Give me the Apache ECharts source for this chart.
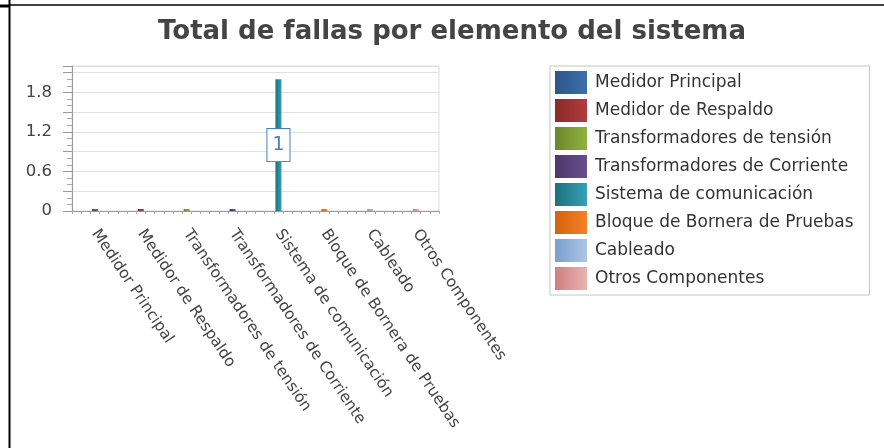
<!DOCTYPE html>
<html>
<head>
<meta charset="utf-8">
<script src="https://cdn.jsdelivr.net/npm/echarts@6/dist/echarts.min.js"></script>
<style>
  html, body { margin: 0; padding: 0; background: #fff; }
  #chart { width: 884px; height: 448px; }
</style>
</head>
<body>
<div id="chart"></div>
<script>
// categorias del eje x (y nombres de la leyenda)
var categories = [
  "Medidor Principal",
  "Medidor de Respaldo",
  "Transformadores de tensión",
  "Transformadores de Corriente",
  "Sistema de comunicación",
  "Bloque de Bornera de Pruebas",
  "Cableado",
  "Otros Componentes"
];
// altura de cada barra
var values = [0, 0, 0, 0, 2, 0, 0, 0];
// texto de la etiqueta que se ve sobre la barra
var labelTexts = ["", "", "", "", "1", "", "", ""];
// colores [oscuro, claro] de cada elemento
var colorPairs = [
  ["#2c5687", "#3d70ab"],
  ["#8a2a2a", "#b13d3d"],
  ["#6b862c", "#8fb33f"],
  ["#4b3769", "#6a4f8f"],
  ["#1d6f7e", "#34a2b6"],
  ["#d3620a", "#f4822a"],
  ["#7b9fcf", "#adc6e6"],
  ["#d07e7e", "#e9b3b3"]
];
var yTicks = [0, 0.6, 1.2, 1.8];

function grad(pair) {
  return new echarts.graphic.LinearGradient(0, 0, 1, 0, [
    { offset: 0, color: pair[0] },
    { offset: 1, color: pair[1] }
  ]);
}

var myChart = echarts.init(document.getElementById("chart"));

var series = categories.map(function (name, i) {
  var data = categories.map(function (c, j) {
    return j === i ? values[i] : "-";
  });
  return {
    name: name,
    type: "bar",
    stack: "total",
    xAxisIndex: 0,
    barWidth: 6,
    barMinHeight: 2,
    data: data,
    itemStyle: { color: grad(colorPairs[i]) },
    label: {
      show: labelTexts[i] !== "",
      position: "inside",
      formatter: function () { return labelTexts[i]; },
      color: "#4a7ebb",
      fontFamily: "DejaVu Sans",
      fontSize: 19,
      backgroundColor: "#fff",
      borderColor: "#4a7ebb",
      borderWidth: 1,
      padding: [7, 5, 6, 5]
    }
  };
});

var option = {
  animation: false,
  textStyle: { fontFamily: "DejaVu Sans" },
  title: {
    text: "Total de fallas por elemento del sistema",
    left: 447,
    textAlign: "center",
    top: 14,
    textStyle: { fontFamily: "DejaVu Sans", fontWeight: "bold", fontSize: 26, color: "#444" }
  },
  legend: {
    orient: "vertical",
    left: 550,
    top: 66,
    itemWidth: 32,
    itemHeight: 23,
    itemGap: 5,
    icon: "rect",
    padding: [5, 16, 5, 5],
    borderColor: "#c4c4c4",
    borderWidth: 1,
    textStyle: { fontFamily: "DejaVu Sans", fontSize: 17, color: "#333", padding: [0, 0, 0, 3] },
    data: categories
  },
  grid: {
    left: 72,
    right: 445,
    top: 66,
    bottom: 237,
    show: true,
    borderColor: "#dcdcdc",
    borderWidth: 1
  },
  xAxis: [
    {
      type: "category",
      data: categories,
      axisLine: { lineStyle: { color: "#999" } },
      axisTick: { alignWithLabel: true, length: 7, lineStyle: { color: "#999" } },
      axisLabel: {
        interval: 0,
        rotate: -56,
        margin: 20,
        fontSize: 15.5,
        color: "#444"
      },
      splitLine: { show: false }
    },
    {
      // marcas menores del eje x
      type: "value",
      position: "bottom",
      min: 0,
      max: 8,
      interval: 0.2,
      axisLine: { show: false },
      axisTick: { show: true, length: 3, lineStyle: { color: "#aaa" } },
      axisLabel: { show: false },
      splitLine: { show: false }
    }
  ],
  yAxis: {
    type: "value",
    min: 0,
    max: 2.2,
    interval: 0.3,
    axisLine: { show: true, lineStyle: { color: "#999" } },
    axisTick: { show: true, length: 9, lineStyle: { color: "#999" } },
    minorTick: { show: true, splitNumber: 3, length: 5, lineStyle: { color: "#aaa" } },
    axisLabel: {
      margin: 20,
      fontSize: 16.5,
      color: "#444",
      formatter: function (v) {
        for (var k = 0; k < yTicks.length; k++) {
          if (Math.abs(v - yTicks[k]) < 1e-6) return String(yTicks[k]);
        }
        return "";
      }
    },
    splitLine: { lineStyle: { color: "#e2e2e2" } }
  },
  graphic: [
    { type: "line", shape: { x1: 9.5, y1: 0, x2: 9.5, y2: 448 }, style: { stroke: "#000", lineWidth: 2 } },
    { type: "line", shape: { x1: 9, y1: 5, x2: 884, y2: 5 }, style: { stroke: "#000", lineWidth: 1.5 } },
    { type: "line", shape: { x1: 0, y1: 6, x2: 9, y2: 6 }, style: { stroke: "#000", lineWidth: 3 } }
  ],
  series: series
};

myChart.setOption(option);
window.onresize = myChart.resize;
</script>
</body>
</html>
